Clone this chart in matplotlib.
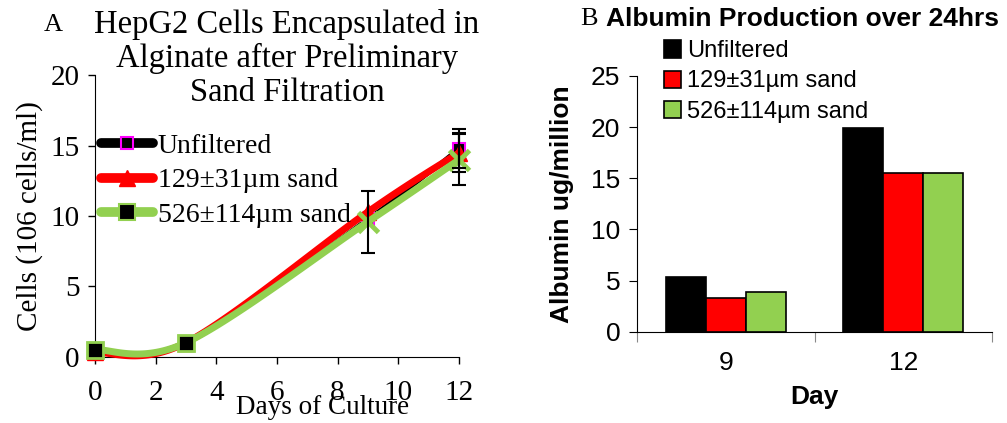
import matplotlib
matplotlib.use("Agg")
import matplotlib.pyplot as plt
import numpy as np

SERIF = ["Liberation Serif", "DejaVu Serif"]
SANS = ["Liberation Sans", "DejaVu Sans"]

# panel A: cell density (10^6 cells/ml) by day of culture
days = [0, 3, 9, 12]
unfiltered = [0.45, 0.95, 9.8, 14.8]
sand_129 = [0.3, 1.0, 10.3, 14.5]
sand_526 = [0.5, 1.0, 9.6, 14.0]
err_unfiltered = [0, 0, 0, 1.4]
err_129 = [0, 0, 0, 1.4]
err_526 = [0, 0, 2.2, 1.8]

# panel B: albumin production (ug/million) over 24 hrs
bar_days = ["9", "12"]
alb_unfiltered = [5.3, 19.9]
alb_129 = [3.3, 15.5]
alb_526 = [3.85, 15.5]

labels = ["Unfiltered", "129±31µm sand", "526±114µm sand"]


def smooth(x, y, n=40):
    """Bezier smoothing through the points (spreadsheet style)."""
    pts = np.column_stack([x, y]).astype(float)
    ext = np.vstack([pts[0], pts, pts[-1]])
    xs, ys = [], []
    t = np.linspace(0, 1, n)[:, None]
    for i in range(len(pts) - 1):
        p0, p3 = pts[i], pts[i + 1]
        p1 = p0 + (ext[i + 2] - ext[i]) / 6
        p2 = p3 - (ext[i + 3] - ext[i + 1]) / 6
        seg = ((1 - t) ** 3) * p0 + 3 * ((1 - t) ** 2) * t * p1 \
            + 3 * (1 - t) * t ** 2 * p2 + t ** 3 * p3
        xs.extend(seg[:, 0])
        ys.extend(seg[:, 1])
    return np.array(xs), np.array(ys)


fig = plt.figure(figsize=(10.07, 4.23), dpi=100)

# ---------------- panel A ----------------
ax1 = fig.add_axes([0.0943, 0.1567, 0.3615, 0.665])
ax1.set_xlim(0, 12)
ax1.set_ylim(0, 20)
for s in ["top", "right"]:
    ax1.spines[s].set_visible(False)

sx, sy = smooth(days, unfiltered)
ax1.plot(sx, sy, color="black", lw=3, zorder=2, clip_on=False)
ax1.plot(days, unfiltered, ls="none", marker="s", ms=9,
         mfc="black", mec="#ff00ff", mew=1.5, zorder=3, clip_on=False)
sx, sy = smooth(days, sand_129)
ax1.plot(sx, sy, color="red", lw=5, zorder=4, clip_on=False)
ax1.plot(days, sand_129, ls="none", marker="^", ms=11, color="red",
         zorder=5, clip_on=False)
sx, sy = smooth(days, sand_526)
ax1.plot(sx, sy, color="#92d050", lw=5, zorder=6, clip_on=False)
ax1.plot(days[:2], sand_526[:2], ls="none", marker="s", ms=12,
         mfc="black", mec="#92d050", mew=2, zorder=7, clip_on=False)
ax1.plot(days[2:], sand_526[2:], ls="none", marker="x", ms=14,
         color="#92d050", mew=3.5, zorder=7, clip_on=False)

for vals, errs in [(unfiltered, err_unfiltered), (sand_129, err_129),
                   (sand_526, err_526)]:
    d = [x for x, e in zip(days, errs) if e > 0]
    v = [y for y, e in zip(vals, errs) if e > 0]
    e = [e for e in errs if e > 0]
    ax1.errorbar(d, v, yerr=e, fmt="none", ecolor="black", elinewidth=1.5,
                 capsize=5, capthick=1.5, zorder=8, clip_on=False)

h1, = ax1.plot([], [], color="black", lw=7, marker="s", ms=9,
               mfc="black", mec="#ff00ff", mew=1.5,
               solid_capstyle="round")
h2, = ax1.plot([], [], color="red", lw=7, marker="^", ms=11,
               solid_capstyle="round")
h3, = ax1.plot([], [], color="#92d050", lw=7, marker="s", ms=11,
               mfc="black", mec="#92d050", mew=1.5,
               solid_capstyle="round")
ax1.legend([h1, h2, h3], labels, loc="upper left",
           bbox_to_anchor=(0.1, 0.685), bbox_transform=fig.transFigure,
           frameon=False, prop={"family": SERIF, "size": 20},
           handlelength=1.9, handletextpad=0.15, labelspacing=0.33,
           borderaxespad=0, borderpad=0)

ax1.set_xticks(range(0, 13, 2))
ax1.set_yticks(range(0, 21, 5))
ax1.tick_params(axis="x", direction="out", length=5, width=1,
                labelsize=21, pad=12)
ax1.tick_params(axis="y", direction="out", length=5, width=1,
                labelsize=21, pad=6)
for lab in ax1.get_xticklabels() + ax1.get_yticklabels():
    lab.set_family(SERIF)
ax1.set_xlabel("Days of Culture", family=SERIF, fontsize=19.5)
ax1.xaxis.set_label_coords(0.624, -0.135)
ax1.set_ylabel("Cells (106 cells/ml)", family=SERIF, fontsize=21,
               labelpad=5)
fig.text(0.285, 0.978, "HepG2 Cells Encapsulated in\nAlginate after Preliminary\nSand Filtration",
         ha="center", va="top", family=SERIF, fontsize=23.5,
         linespacing=1.12)
fig.text(0.043, 0.94, "A", family=SERIF, fontsize=19, va="center")

# ---------------- panel B ----------------
ax2 = fig.add_axes([0.6326, 0.2159, 0.3525, 0.6045])
ax2.set_xlim(0, 2)
ax2.set_ylim(0, 25)
for s in ["top", "right"]:
    ax2.spines[s].set_visible(False)

centers = np.arange(len(bar_days)) + 0.5
w = 0.225
b1 = ax2.bar(centers - w, alb_unfiltered, w, color="black",
             edgecolor="black", lw=1.2)
b2 = ax2.bar(centers, alb_129, w, color="red", edgecolor="black", lw=1.2)
b3 = ax2.bar(centers + w, alb_526, w, color="#92d050", edgecolor="black",
             lw=1.2)

ax2.set_xticks([0, 1, 2])
ax2.set_xticklabels([])
ax2.set_xticks(centers, minor=True)
ax2.set_xticklabels(bar_days, minor=True)
ax2.tick_params(axis="x", which="major", direction="out", length=7,
                color="#888888")
ax2.tick_params(axis="x", which="minor", length=0, labelsize=19, pad=14)
ax2.set_yticks(range(0, 26, 5))
ax2.tick_params(axis="y", direction="out", length=6, labelsize=19, pad=6)
for lab in ax2.get_xticklabels(minor=True) + ax2.get_yticklabels():
    lab.set_family(SANS)
ax2.set_xlabel("Day", family=SANS, fontsize=19, fontweight="bold",
               labelpad=7)
ax2.set_ylabel("Albumin ug/million", family=SANS, fontsize=19,
               fontweight="bold", labelpad=12)

ax2.legend([b1, b2, b3], labels, loc="upper left",
           bbox_to_anchor=(0.659, 0.905), bbox_transform=fig.transFigure,
           frameon=False, prop={"family": SANS, "size": 17},
           handlelength=0.75, handleheight=0.75, handletextpad=0.25,
           labelspacing=0.35, borderaxespad=0, borderpad=0)

fig.text(0.576, 0.955, "B", family=SERIF, fontsize=19, va="center")
fig.text(0.602, 0.955, "Albumin Production over 24hrs", family=SANS,
         fontsize=19, fontweight="bold", va="center")

fig.savefig("out.png", dpi=100)
